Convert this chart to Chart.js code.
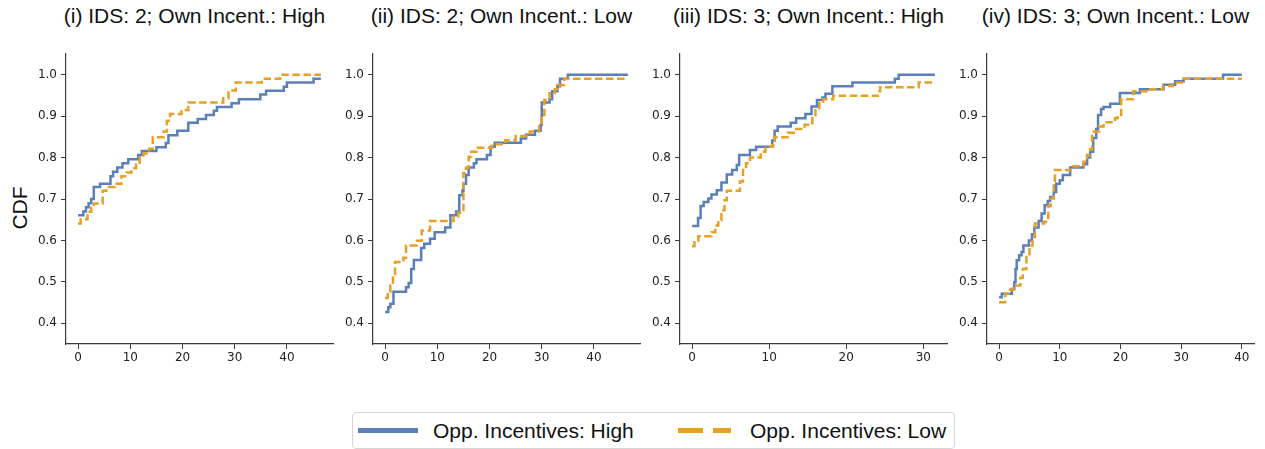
<!DOCTYPE html>
<html>
<head>
<meta charset="utf-8">
<script src="https://cdn.jsdelivr.net/npm/chart.js@4.4.0/dist/chart.umd.min.js"></script>
<style>
  body { margin: 0; background: #fff; font-family: "Liberation Sans", Arial, sans-serif; }
  #page { position: relative; width: 1265px; height: 449px; overflow: hidden; }
  .panel { position: absolute; top: 41px; width: 327px; height: 340px; }
  .title { position: absolute; top: 5px; width: 400px; text-align: center; font-size: 21px; line-height: 21px; color: #111; white-space: nowrap; }
  #ylabel { position: absolute; left: -2px; top: 197px; width: 44px; text-align: center; font-size: 21px; line-height: 22px; transform: rotate(-90deg); color: #111; }
  #legend { position: absolute; left: 352px; top: 412px; width: 601px; height: 35px; border: 1px solid #d6d6d6; border-radius: 4px; }
  .sw { position: absolute; top: 15px; height: 5px; }
  .lt { position: absolute; top: 6px; font-size: 21px; line-height: 24px; color: #111; white-space: nowrap; }
</style>
</head>
<body>
<div id="page">
  <div id="ylabel">CDF</div>
  <div id="legend">
    <div class="sw" style="left:5px;width:60px;background:#5b7fbb"></div>
    <div class="lt" style="left:80px">Opp. Incentives: High</div>
    <div class="sw" style="left:325px;width:25px;background:#e5a025"></div>
    <div class="sw" style="left:360px;width:18px;background:#e5a025"></div>
    <div class="lt" style="left:397px">Opp. Incentives: Low</div>
  </div>
</div>
<script>
// --- dados ---
const titles = [
  '(i) IDS: 2; Own Incent.: High',
  '(ii) IDS: 2; Own Incent.: Low',
  '(iii) IDS: 3; Own Incent.: High',
  '(iv) IDS: 3; Own Incent.: Low'
];
const yTicks = [0.4, 0.5, 0.6, 0.7, 0.8, 0.9, 1.0];
const xTicksWide = [0, 10, 20, 30, 40];
const xTicksShort = [0, 10, 20, 30];
const xMaxData = [46.5, 46.5, 31.5, 40];

// painel (i)
const highX1 = [0, 1.0, 1.5, 2.0, 2.5, 3.0, 4.2, 6.2, 6.7, 7.5, 8.5, 9.6, 11.5, 12.2, 15.0, 16.8, 17.3, 19.0, 21.1, 22.9, 24.5, 26.0, 26.6, 29.4, 30.8, 34.9, 36.0, 39.4, 40.0, 45.1, 46.5];
const highY1 = [0.661, 0.67, 0.68, 0.69, 0.70, 0.729, 0.737, 0.755, 0.766, 0.776, 0.786, 0.796, 0.806, 0.816, 0.825, 0.835, 0.854, 0.865, 0.884, 0.893, 0.903, 0.913, 0.922, 0.931, 0.941, 0.952, 0.961, 0.971, 0.981, 0.99, 0.99];
const lowX1 = [0, 0.5, 1.8, 2.5, 3.0, 4.7, 5.4, 7.0, 8.3, 9.3, 10.2, 11.1, 11.8, 12.5, 13.6, 14.3, 16.4, 17.0, 17.6, 19.8, 21.1, 27.8, 28.8, 30.2, 35.2, 38.7, 46.5];
const lowY1 = [0.641, 0.651, 0.669, 0.679, 0.689, 0.72, 0.729, 0.737, 0.755, 0.764, 0.774, 0.783, 0.80, 0.81, 0.821, 0.849, 0.863, 0.889, 0.905, 0.915, 0.933, 0.943, 0.962, 0.981, 0.99, 1.0, 1.0];

// painel (ii)
const highX2 = [0, 0.6, 1.0, 1.6, 4.0, 4.5, 5.0, 5.5, 6.9, 7.5, 8.6, 9.5, 11.5, 12.5, 13.6, 14.2, 14.8, 15.0, 15.5, 16.0, 17.0, 17.5, 19.5, 20.2, 21.0, 26.0, 27.0, 28.7, 29.8, 30.0, 31.5, 32.0, 33.0, 33.5, 35.0, 46.5];
const highY2 = [0.427, 0.439, 0.447, 0.476, 0.487, 0.497, 0.531, 0.553, 0.582, 0.592, 0.604, 0.62, 0.631, 0.661, 0.67, 0.709, 0.72, 0.737, 0.758, 0.776, 0.786, 0.796, 0.806, 0.826, 0.836, 0.846, 0.855, 0.865, 0.879, 0.933, 0.941, 0.96, 0.972, 0.99, 1.0, 1.0];
const lowX2 = [0, 0.5, 1.0, 1.5, 1.9, 3.5, 4.0, 6.1, 7.0, 8.6, 13.1, 14.0, 15.0, 15.5, 16.0, 16.5, 17.5, 20.5, 23.0, 25.0, 27.7, 29.5, 30.0, 30.5, 31.5, 32.5, 33.0, 34.3, 46.5];
const lowY2 = [0.461, 0.475, 0.491, 0.519, 0.548, 0.558, 0.588, 0.599, 0.624, 0.647, 0.657, 0.667, 0.763, 0.776, 0.802, 0.814, 0.824, 0.832, 0.842, 0.852, 0.863, 0.875, 0.903, 0.939, 0.955, 0.965, 0.975, 0.99, 0.99];

// painel (iii)
const highX3 = [0, 0.77, 1.1, 1.5, 2.1, 2.5, 3.2, 3.8, 4.5, 5.2, 5.8, 6.1, 7.5, 8.3, 10.4, 10.7, 11.1, 12.8, 13.5, 14.7, 15.5, 16.2, 16.9, 17.3, 18.2, 20.8, 26.3, 26.8, 31.5];
const highY3 = [0.635, 0.654, 0.683, 0.693, 0.701, 0.711, 0.721, 0.74, 0.759, 0.77, 0.782, 0.806, 0.818, 0.826, 0.841, 0.865, 0.875, 0.884, 0.895, 0.905, 0.923, 0.939, 0.945, 0.954, 0.972, 0.981, 0.99, 1.0, 1.0];
const lowX3 = [0, 0.3, 0.8, 2.5, 3.0, 3.4, 3.8, 4.2, 4.5, 6.2, 6.6, 7.0, 7.5, 8.9, 9.5, 10.4, 10.7, 12.4, 13.2, 14.6, 15.6, 16.0, 16.5, 17.0, 18.3, 24.1, 24.4, 29.4, 31.5];
const lowY3 = [0.586, 0.599, 0.61, 0.62, 0.636, 0.649, 0.673, 0.697, 0.72, 0.742, 0.77, 0.786, 0.80, 0.814, 0.826, 0.83, 0.849, 0.86, 0.869, 0.879, 0.899, 0.919, 0.935, 0.941, 0.949, 0.96, 0.97, 0.981, 0.981];

// painel (iv)
const highX4 = [0, 0.44, 2.1, 2.5, 2.7, 2.9, 3.3, 3.7, 4.0, 4.9, 5.4, 5.8, 6.5, 7.0, 7.5, 8.0, 8.4, 9.0, 9.4, 10.0, 10.5, 11.7, 13.9, 14.5, 15.0, 15.5, 16.0, 16.3, 16.8, 17.2, 18.3, 19.9, 23.2, 27.1, 29.0, 30.4, 36.9, 40];
const highY4 = [0.463, 0.471, 0.483, 0.499, 0.531, 0.552, 0.564, 0.572, 0.588, 0.60, 0.615, 0.631, 0.647, 0.665, 0.685, 0.695, 0.705, 0.717, 0.737, 0.745, 0.758, 0.776, 0.784, 0.80, 0.814, 0.847, 0.869, 0.903, 0.917, 0.922, 0.93, 0.956, 0.965, 0.976, 0.984, 0.99, 1.0, 1.0];
const lowX4 = [0, 1.0, 1.5, 2.4, 3.5, 3.9, 4.5, 5.0, 5.5, 5.9, 7.4, 8.1, 8.5, 9.0, 9.2, 11.8, 13.9, 14.5, 15.0, 15.3, 16.5, 17.2, 19.1, 19.5, 20.1, 22.1, 24.9, 27.0, 28.6, 30.1, 40];
const lowY4 = [0.451, 0.471, 0.481, 0.491, 0.51, 0.531, 0.56, 0.588, 0.608, 0.641, 0.645, 0.683, 0.701, 0.737, 0.77, 0.779, 0.79, 0.806, 0.82, 0.863, 0.875, 0.885, 0.895, 0.903, 0.941, 0.96, 0.965, 0.973, 0.981, 0.99, 0.99];

// --- estilo / layout ---
const BLUE = '#5b7fbb';
const ORANGE = '#e5a025';
const AXIS_COLOR = '#3a3a3a';
const axisLeft = [66, 373, 680, 987];
const PLOT_W = 267;
const Y_AXIS_W = 46;
const TITLE_SHIFT = -5;

const panels = [
  { hx: highX1, hy: highY1, lx: lowX1, ly: lowY1, ticks: xTicksWide },
  { hx: highX2, hy: highY2, lx: lowX2, ly: lowY2, ticks: xTicksWide },
  { hx: highX3, hy: highY3, lx: lowX3, ly: lowY3, ticks: xTicksShort },
  { hx: highX4, hy: highY4, lx: lowX4, ly: lowY4, ticks: xTicksWide }
];

const toPoints = (xs, ys) => xs.map((x, i) => ({ x: x, y: ys[i] }));
const tickFont = { family: 'DejaVu Sans', size: 12 };

const page = document.getElementById('page');

panels.forEach((p, i) => {
  const wrap = document.createElement('div');
  wrap.className = 'panel';
  wrap.style.left = (axisLeft[i] - Y_AXIS_W) + 'px';
  const canvas = document.createElement('canvas');
  wrap.appendChild(canvas);
  page.appendChild(wrap);

  const title = document.createElement('div');
  title.className = 'title';
  title.textContent = titles[i];
  title.style.left = (axisLeft[i] + PLOT_W / 2 - 200 + TITLE_SHIFT) + 'px';
  page.appendChild(title);

  const dmax = xMaxData[i];

  new Chart(canvas.getContext('2d'), {
    type: 'line',
    data: {
      datasets: [
        {
          label: 'Opp. Incentives: High',
          data: toPoints(p.hx, p.hy),
          borderColor: BLUE,
          borderWidth: 2.5,
          stepped: 'before',
          pointRadius: 0,
          fill: false,
          order: 1
        },
        {
          label: 'Opp. Incentives: Low',
          data: toPoints(p.lx, p.ly),
          borderColor: ORANGE,
          borderWidth: 2.5,
          borderDash: [7.5, 3.5],
          stepped: 'before',
          pointRadius: 0,
          fill: false,
          order: 0
        }
      ]
    },
    options: {
      responsive: true, maintainAspectRatio: false, animation: false,
      layout: { padding: { top: 13, right: 14, left: 0, bottom: 0 } },
      plugins: { legend: { display: false }, tooltip: { enabled: false } },
      scales: {
        x: {
          type: 'linear',
          min: -0.05 * dmax,
          max: 1.05 * dmax,
          afterBuildTicks: s => { s.ticks = p.ticks.map(v => ({ value: v })); },
          afterFit: s => { s.height = 37; },
          ticks: { font: tickFont, color: '#222', padding: 2, maxRotation: 0, autoSkip: false },
          grid: { drawOnChartArea: false, drawTicks: true, tickLength: 5, color: AXIS_COLOR, lineWidth: 1 },
          border: { display: true, color: AXIS_COLOR, width: 1.2 }
        },
        y: {
          min: 0.35,
          max: 1.05,
          afterBuildTicks: s => { s.ticks = yTicks.map(v => ({ value: v })); },
          afterFit: s => { s.width = Y_AXIS_W; },
          ticks: { font: tickFont, color: '#222', padding: 4, callback: v => v.toFixed(1) },
          grid: { drawOnChartArea: false, drawTicks: true, tickLength: 5, color: AXIS_COLOR, lineWidth: 1 },
          border: { display: true, color: AXIS_COLOR, width: 1.2 }
        }
      }
    }
  });
});
</script>
</body>
</html>
